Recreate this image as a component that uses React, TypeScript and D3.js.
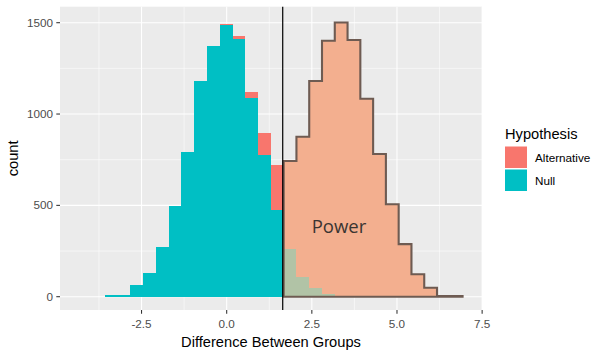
import React from 'react';
import * as d3 from 'd3';

const binStart = -3.58;
const binWidth = 0.3752;
const nullCounts = [8, 8, 64, 131, 274, 497, 794, 1182, 1372, 1487, 1409, 1089, 776, 475, 261, 109, 49, 13, 1, 0, 0, 0, 0, 0, 0, 0, 0, 0];
const altCounts = [0, 0, 0, 0, 0, 0, 0, 0, 0, 6, 18, 31, 122, 246, 482, 767, 1132, 1388, 1500, 1405, 1084, 781, 506, 288, 123, 49, 4, 4];
const critValue = 1.645;
const xTicks = [-2.5, 0, 2.5, 5, 7.5];
const xTickLabels = ['-2.5', '0.0', '2.5', '5.0', '7.5'];
const xMinor = [-3.75, -1.25, 1.25, 3.75, 6.25];
const yTicks = [0, 500, 1000, 1500];
const yMinor = [250, 750, 1250];
const legendLabels = ['Alternative', 'Null'];
const legendColors = ['#F8766D', '#00BFC4'];

const P = { l: 60, r: 482, t: 6.7, b: 310 };

export default function App() {
  const x = d3.scaleLinear().domain([-4.894, 7.496]).range([P.l, P.r]);
  const y = d3.scaleLinear().domain([-72.8, 1587.6]).range([P.b, P.t]);
  const bins = nullCounts.map((n, i) => ({
    x0: binStart + i * binWidth,
    x1: binStart + (i + 1) * binWidth,
    n,
    a: altCounts[i],
  }));
  const power = bins.filter((b) => b.x0 >= critValue - 1e-9);
  const pts: [number, number][] = [];
  pts.push([x(power[0].x0), y(0)]);
  power.forEach((b) => {
    pts.push([x(b.x0), y(b.n + b.a)]);
    pts.push([x(b.x1), y(b.n + b.a)]);
  });
  pts.push([x(power[power.length - 1].x1), y(0)]);
  const area = d3.line()(pts) + 'Z';
  const font = "'Liberation Sans', Arial, sans-serif";
  return (
    <svg width={606} height={356} style={{ position: 'absolute', left: 0, top: 0, background: '#fff' }} fontFamily={font}>
      <rect x={P.l} y={P.t} width={P.r - P.l} height={P.b - P.t} fill="#EBEBEB" />
      {xMinor.map((v) => (
        <line key={'xm' + v} x1={x(v)} x2={x(v)} y1={P.t} y2={P.b} stroke="#fff" strokeWidth={0.55} />
      ))}
      {yMinor.map((v) => (
        <line key={'ym' + v} x1={P.l} x2={P.r} y1={y(v)} y2={y(v)} stroke="#fff" strokeWidth={0.55} />
      ))}
      {xTicks.map((v) => (
        <line key={'xM' + v} x1={x(v)} x2={x(v)} y1={P.t} y2={P.b} stroke="#fff" strokeWidth={1.07} />
      ))}
      {yTicks.map((v) => (
        <line key={'yM' + v} x1={P.l} x2={P.r} y1={y(v)} y2={y(v)} stroke="#fff" strokeWidth={1.07} />
      ))}
      {bins.map((b, i) => (
        <g key={'b' + i} shapeRendering="crispEdges">
          {b.n > 0 && (
            <rect x={x(b.x0)} width={x(b.x1) - x(b.x0)} y={y(b.n)} height={y(0) - y(b.n)} fill="#00BFC4" />
          )}
          {b.a > 0 && (
            <rect x={x(b.x0)} width={x(b.x1) - x(b.x0)} y={y(b.n + b.a)} height={y(b.n) - y(b.n + b.a)} fill="#F8766D" />
          )}
        </g>
      ))}
      <path d={area} fill="rgb(242,196,155)" fillOpacity={0.734} stroke="#6E5B52" strokeWidth={2.1} strokeLinejoin="miter" />
      <text x={339} y={227} dy="0.35em" textAnchor="middle" fontFamily="'Open Sans', sans-serif" fontSize={18.5} fill="#3A3532">Power</text>
      <line x1={x(critValue)} x2={x(critValue)} y1={P.t} y2={P.b} stroke="#000" strokeWidth={1.2} />
      {xTicks.map((v, i) => (
        <g key={'xt' + v}>
          <line x1={x(v)} x2={x(v)} y1={P.b} y2={P.b + 3.7} stroke="#333" strokeWidth={1.07} />
          <text x={x(v)} y={323.5} dy="0.35em" textAnchor="middle" fontSize={11.7} fill="#4D4D4D">{xTickLabels[i]}</text>
        </g>
      ))}
      {yTicks.map((v) => (
        <g key={'yt' + v}>
          <line x1={P.l - 3.7} x2={P.l} y1={y(v)} y2={y(v)} stroke="#333" strokeWidth={1.07} />
          <text x={53} y={y(v)} dy="0.35em" textAnchor="end" fontSize={11.7} fill="#4D4D4D">{v}</text>
        </g>
      ))}
      <text x={(P.l + P.r) / 2} y={342} dy="0.35em" textAnchor="middle" fontSize={14.67} fill="#000">Difference Between Groups</text>
      <text transform={`translate(12.5,${(P.t + P.b) / 2}) rotate(-90)`} dy="0.35em" textAnchor="middle" fontSize={14.67} fill="#000">count</text>
      <text x={505} y={134} dy="0.35em" fontSize={14.67} fill="#000">Hypothesis</text>
      {legendLabels.map((l, i) => (
        <g key={l}>
          <rect x={505} y={146.5 + i * 23} width={22} height={21.5} fill={legendColors[i]} />
          <text x={535} y={157.5 + i * 23} dy="0.35em" fontSize={11.7} fill="#000">{l}</text>
        </g>
      ))}
    </svg>
  );
}
